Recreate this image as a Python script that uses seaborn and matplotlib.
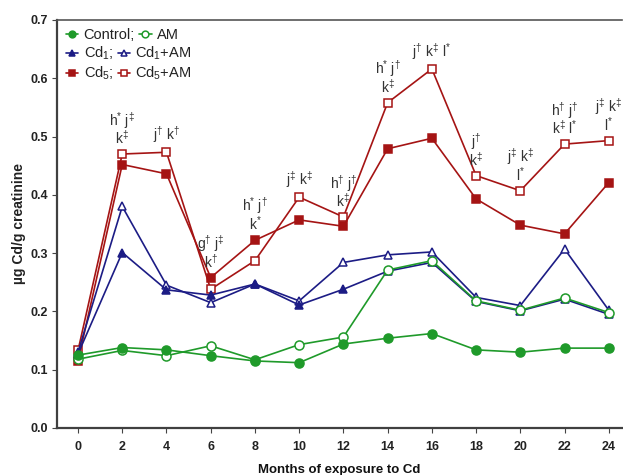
import matplotlib
matplotlib.use("Agg")
import matplotlib.pyplot as plt
import seaborn as sns
import pandas as pd

months = [0, 2, 4, 6, 8, 10, 12, 14, 16, 18, 20, 22, 24]
control = [0.125, 0.138, 0.134, 0.124, 0.115, 0.112, 0.144, 0.154, 0.162, 0.134, 0.130, 0.137, 0.137]
am = [0.118, 0.133, 0.124, 0.141, 0.117, 0.143, 0.156, 0.271, 0.287, 0.218, 0.202, 0.223, 0.198]
cd1 = [0.127, 0.301, 0.237, 0.228, 0.247, 0.211, 0.238, 0.269, 0.284, 0.217, 0.201, 0.221, 0.195]
cd1_am = [0.130, 0.380, 0.245, 0.215, 0.247, 0.218, 0.284, 0.297, 0.302, 0.224, 0.210, 0.307, 0.202]
cd5 = [0.115, 0.452, 0.436, 0.258, 0.322, 0.357, 0.346, 0.479, 0.497, 0.393, 0.348, 0.333, 0.421]
cd5_am = [0.133, 0.470, 0.473, 0.238, 0.287, 0.396, 0.362, 0.558, 0.616, 0.433, 0.407, 0.487, 0.493]

# significance annotations: (month, text, anchor series)
annot_months = [2, 4, 6, 8, 10, 12, 14, 16, 18, 20, 22, 24]
annot_texts = [
    "h$^{*}$ j$^{\\ddagger}$\nk$^{\\ddagger}$",
    "j$^{\\dagger}$ k$^{\\dagger}$",
    "g$^{\\dagger}$ j$^{\\ddagger}$\nk$^{\\dagger}$",
    "h$^{*}$ j$^{\\dagger}$\nk$^{*}$",
    "j$^{\\ddagger}$ k$^{\\ddagger}$",
    "h$^{\\dagger}$ j$^{\\dagger}$\nk$^{\\ddagger}$",
    "h$^{*}$ j$^{\\dagger}$\nk$^{\\ddagger}$",
    "j$^{\\dagger}$ k$^{\\ddagger}$ l$^{*}$",
    "j$^{\\dagger}$\nk$^{\\ddagger}$",
    "j$^{\\ddagger}$ k$^{\\ddagger}$\nl$^{*}$",
    "h$^{\\dagger}$ j$^{\\dagger}$\nk$^{\\ddagger}$ l$^{*}$",
    "j$^{\\ddagger}$ k$^{\\ddagger}$\nl$^{*}$",
]
annot_anchor = ["cd5_am", "cd5_am", "cd5", "cd5", "cd5_am", "cd5_am", "cd5_am",
                "cd5_am", "cd5_am", "cd5_am", "cd5_am", "cd5_am"]

sns.set_style("ticks")
plt.rcParams["font.family"] = ["Liberation Sans", "DejaVu Sans"]
plt.rcParams["mathtext.fontset"] = "custom"
plt.rcParams["mathtext.rm"] = "Liberation Sans"
plt.rcParams["mathtext.it"] = "Liberation Sans"
plt.rcParams["mathtext.bf"] = "Liberation Sans:bold"

fig = plt.figure(figsize=(6.23, 4.75), dpi=100)
ax = fig.add_axes([0.0915, 0.099, 0.907, 0.859])

GREEN = "#1f9a2a"
BLUE = "#1c1c85"
RED = "#a51414"

series = [
    ("Cd$_5$+AM", cd5_am, RED, "s", "white", 6.0),
    ("Cd$_5$;", cd5, RED, "s", RED, 6.0),
    ("Cd$_1$+AM", cd1_am, BLUE, "^", "white", 6.0),
    ("Cd$_1$;", cd1, BLUE, "^", BLUE, 6.0),
    ("AM", am, GREEN, "o", "white", 6.5),
    ("Control;", control, GREEN, "o", GREEN, 6.5),
]
handles = {}
for label, vals, col, mk, fc, ms in series:
    df = pd.DataFrame({"month": months, "val": vals})
    sns.lineplot(data=df, x="month", y="val", ax=ax, color=col, marker=mk,
                 markerfacecolor=fc, markeredgecolor=col, markeredgewidth=1.1,
                 markersize=ms, linewidth=1.2, label=label, legend=False)
    handles[label] = ax.lines[-1]

data_map = {"cd5": cd5, "cd5_am": cd5_am}
for m, t, a in zip(annot_months, annot_texts, annot_anchor):
    yv = data_map[a][months.index(m)]
    ax.annotate(t, xy=(m, yv), xytext=(0, 5.0), textcoords="offset points",
                ha="center", va="bottom", fontsize=10, color="#333333",
                linespacing=0.9)

# legend: one row per legend so second entries follow their first text closely
rows = [("Control;", "AM", 0.963), ("Cd$_1$;", "Cd$_1$+AM", 0.918), ("Cd$_5$;", "Cd$_5$+AM", 0.869)]
for i, (a, b, yy) in enumerate(rows):
    leg = ax.legend([handles[a], handles[b]], [a, b], ncol=2, loc="center left",
                    bbox_to_anchor=(0.016, yy), frameon=False, fontsize=10.5,
                    handlelength=0.85, handletextpad=0.35, columnspacing=0.3,
                    borderpad=0, borderaxespad=0, markerscale=0.75)
    for txt in leg.get_texts():
        txt.set_color("#222222")
    if i < len(rows) - 1:
        ax.add_artist(leg)

ax.set_xlim(-0.95, 24.6)
ax.set_ylim(0, 0.7)
ax.set_xticks(months)
yt = [0.0, 0.1, 0.2, 0.3, 0.4, 0.5, 0.6, 0.7]
ax.set_yticks(yt)
ax.set_yticklabels([f"{v:.1f}" for v in yt])
for lab in ax.get_xticklabels() + ax.get_yticklabels():
    lab.set_fontweight("bold")
    lab.set_fontsize(9)
    lab.set_color("#222222")
ax.tick_params(axis="both", direction="out", length=3.5, width=0.8, color="#444444")
ax.tick_params(axis="x", pad=6)
ax.tick_params(axis="y", pad=3)

ax.set_xlabel("Months of exposure to Cd", fontsize=9.5, fontweight="bold", labelpad=8, color="#111111")
ax.set_ylabel("µg Cd/g creatinine", fontsize=10, fontweight="bold", labelpad=3, color="#222222")

for side in ["left", "bottom"]:
    ax.spines[side].set_color("#404040")
    ax.spines[side].set_linewidth(1.6)
ax.spines["top"].set_color("#555555")
ax.spines["top"].set_linewidth(1.2)
ax.spines["right"].set_visible(False)

fig.savefig("out.png", dpi=100)
